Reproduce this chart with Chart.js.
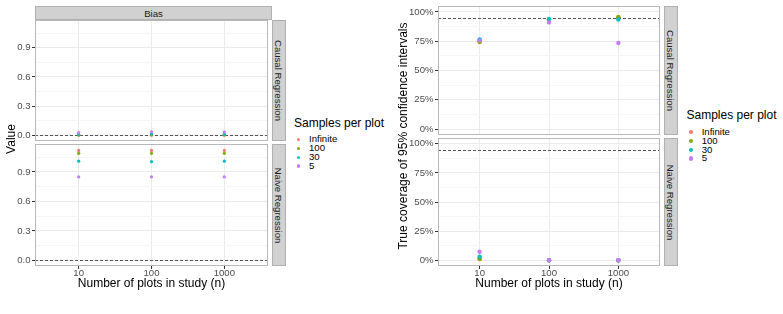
<!DOCTYPE html>
<html><head><meta charset="utf-8">
<script src="https://cdn.jsdelivr.net/npm/chart.js@4/dist/chart.umd.min.js"></script>
<style>
html,body{margin:0;padding:0;background:#fff;width:783px;height:314px;overflow:hidden;font-family:"Liberation Sans",Arial,sans-serif;}
canvas{position:absolute;}
.strip{position:absolute;background:#D1D1D1;border:1px solid #B0B0B0;box-sizing:border-box;color:#1A1A1A;font-size:9.6px;display:flex;align-items:center;justify-content:center;overflow:visible;}
.vt{transform:rotate(90deg);white-space:nowrap;}
.t{position:absolute;white-space:nowrap;color:#000;}
.ytitle{position:absolute;text-align:center;font-size:12px;height:14px;line-height:14px;transform:rotate(-90deg);white-space:nowrap;color:#000;}
.dot{position:absolute;border-radius:50%;}
</style>
</head><body>
<canvas id="lt"></canvas><canvas id="lb"></canvas><canvas id="rt"></canvas><canvas id="rb"></canvas>
<div id="overlay"></div>
<script>
// ---- data ----
const nPlots = ['10', '100', '1000'];
const sampleGroups = ['Infinite', '100', '30', '5'];
const groupColors = ['#F8766D', '#7CAE00', '#00BFC4', '#C77CFF'];
// rows follow sampleGroups, columns follow nPlots
const biasCausal  = [[0.002, 0.002, 0.002], [0.004, 0.005, 0.004], [0.012, 0.015, 0.012], [0.028, 0.035, 0.035]];
const biasNaive   = [[1.12, 1.12, 1.12], [1.09, 1.09, 1.09], [1.01, 1.005, 1.01], [0.85, 0.85, 0.85]];
const coverCausal = [[0.745, 0.935, 0.955], [0.745, 0.935, 0.955], [0.765, 0.94, 0.935], [0.755, 0.91, 0.735]];
const coverNaive  = [[0.01, 0, 0], [0.012, 0, 0], [0.03, 0, 0], [0.072, 0, 0]];
const biasTicks = [0, 0.3, 0.6, 0.9];
const biasTickLabels = ['0.0', '0.3', '0.6', '0.9'];
const biasMinor = [0.15, 0.45, 0.75, 1.05];
const coverTicks = [0, 0.25, 0.5, 0.75, 1];
const coverTickLabels = ['0%', '25%', '50%', '75%', '100%'];
const coverMinor = [0.125, 0.375, 0.625, 0.875];
const biasRef = 0;
const coverRef = 0.95;
const xTitle = 'Number of plots in study (n)';
const legendTitle = 'Samples per plot';
const stripTop = 'Bias';
const stripRows = ['Causal Regression', 'Naive Regression'];
const yTitleLeft = 'Value';
const yTitleRight = 'True coverage of 95% confidence intervals';

Chart.defaults.font.family = '"Liberation Sans", Arial, sans-serif';

const PAD = 8;

const panelPlugin = {
  id: 'panelDeco',
  beforeDatasetsDraw(chart, args, opts) {
    const {ctx, chartArea: a} = chart;
    const y = Math.round(chart.scales.y.getPixelForValue(opts.ref)) + 0.5;
    ctx.save();
    ctx.strokeStyle = '#555';
    ctx.lineWidth = 1;
    ctx.setLineDash([3, 2]);
    ctx.beginPath(); ctx.moveTo(a.left, y); ctx.lineTo(a.right, y); ctx.stroke();
    ctx.restore();
  },
  afterDraw(chart) {
    const {ctx, chartArea: a} = chart;
    ctx.save();
    ctx.strokeStyle = '#B8B8B8';
    ctx.lineWidth = 1;
    ctx.strokeRect(a.left + 0.5, a.top + 0.5, a.right - a.left - 1, a.bottom - a.top - 1);
    ctx.restore();
  }
};

// p.top/p.h describe the panel box (plus x axis area for bottom panels);
// the canvas is enlarged by PAD above (and below when there is no x axis)
function makePanel(p) {
  const cv = document.getElementById(p.id);
  const padBottom = p.showX ? 0 : PAD;
  const H = p.h + PAD + padBottom;
  cv.width = p.w; cv.height = H;
  cv.style.left = p.left + 'px'; cv.style.top = (p.top - PAD) + 'px';
  cv.style.width = p.w + 'px'; cv.style.height = H + 'px';
  const isMajor = v => p.majors.indexOf(v) >= 0;
  const datasets = sampleGroups.map((g, i) => ({
    label: g,
    data: nPlots.map((n, j) => ({x: j + 1, y: p.series[i][j]})),
    backgroundColor: groupColors[i],
    borderWidth: 0,
    pointRadius: p.r,
    order: sampleGroups.length - 1 - i
  }));
  return new Chart(cv, {
    type: 'scatter',
    data: {datasets},
    plugins: [panelPlugin],
    options: {
      responsive: false, animation: false, devicePixelRatio: 1,
      layout: {padding: {top: PAD, bottom: padBottom, left: 0, right: 0}},
      plugins: {legend: {display: false}, tooltip: {enabled: false}, panelDeco: {ref: p.ref}},
      scales: {
        x: {
          type: 'linear', min: 0.4, max: 3.6,
          afterBuildTicks: s => { s.ticks = nPlots.map((n, j) => ({value: j + 1})); },
          afterFit: s => { s.height = p.xH; s.paddingLeft = 0; s.paddingRight = 0; s.paddingTop = 0; s.paddingBottom = 0; },
          border: {display: false},
          grid: {color: '#EBEBEB', lineWidth: 1, drawTicks: p.showX, tickLength: 3, tickColor: '#333'},
          ticks: {display: p.showX, autoSkip: false, maxRotation: 0, padding: -1, color: '#4D4D4D', font: {size: 9.6},
                  callback: (v, i) => nPlots[i]},
          title: {display: p.showX, text: xTitle, color: '#000', font: {size: 12, lineHeight: 1.2}, padding: {top: 0, bottom: 3}}
        },
        y: {
          min: p.yMin, max: p.yMax,
          afterBuildTicks: s => { s.ticks = p.majors.concat(p.minors).sort((a, b) => a - b).map(v => ({value: v})); },
          afterFit: s => { s.width = p.yW; s.paddingTop = 0; s.paddingBottom = 0; s.paddingLeft = 0; s.paddingRight = 0; },
          border: {display: false},
          grid: {
            color: c => isMajor(c.tick.value) ? '#EBEBEB' : '#F5F5F5',
            lineWidth: 1, drawTicks: true, tickLength: 3,
            tickColor: c => isMajor(c.tick.value) ? '#333' : 'rgba(0,0,0,0)'
          },
          ticks: {autoSkip: false, padding: 1.5, color: '#4D4D4D', font: {size: 9.6},
                  callback: v => { const k = p.majors.indexOf(v); return k >= 0 ? p.labels[k] : ''; }}
        }
      }
    }
  });
}

makePanel({id: 'lt', left: 0, top: 20, w: 272, h: 121, yW: 35, xH: 0, showX: false,
  yMin: -0.058, yMax: 1.185, majors: biasTicks, minors: biasMinor, labels: biasTickLabels,
  series: biasCausal, ref: biasRef, r: 1.6});
makePanel({id: 'lb', left: 0, top: 144, w: 272, h: 150, yW: 35, xH: 28, showX: true,
  yMin: -0.058, yMax: 1.185, majors: biasTicks, minors: biasMinor, labels: biasTickLabels,
  series: biasNaive, ref: biasRef, r: 1.6});
makePanel({id: 'rt', left: 390, top: 6, w: 274, h: 129, yW: 48, xH: 0, showX: false,
  yMin: -0.05, yMax: 1.05, majors: coverTicks, minors: coverMinor, labels: coverTickLabels,
  series: coverCausal, ref: coverRef, r: 2.2});
makePanel({id: 'rb', left: 390, top: 138, w: 274, h: 156, yW: 48, xH: 28, showX: true,
  yMin: -0.05, yMax: 1.05, majors: coverTicks, minors: coverMinor, labels: coverTickLabels,
  series: coverNaive, ref: coverRef, r: 2.2});

// ---- strips, titles, legends (real text) ----
const ov = document.getElementById('overlay');
function el(cls, style, text) {
  const d = document.createElement('div');
  d.className = cls; d.setAttribute('style', style);
  if (text !== undefined) d.textContent = text;
  ov.appendChild(d); return d;
}
function strip(l, t, w, h, text, vertical) {
  const s = el('strip', `left:${l}px;top:${t}px;width:${w}px;height:${h}px;`);
  const sp = document.createElement('span');
  if (vertical) sp.className = 'vt';
  sp.textContent = text; s.appendChild(sp);
}
strip(35, 6, 237, 14, stripTop, false);
strip(272, 20, 14, 121, stripRows[0], true);
strip(272, 144, 14, 122, stripRows[1], true);
strip(664, 6, 14, 129, stripRows[0], true);
strip(664, 138, 14, 128, stripRows[1], true);

el('ytitle', 'left:-39px;top:132px;width:100px;', yTitleLeft);
el('ytitle', 'left:273px;top:129px;width:260px;', yTitleRight);

function legend(x, titleY, firstY, step, dotX, textX, r) {
  el('t', `left:${x}px;top:${titleY - 7}px;height:14px;line-height:14px;font-size:12px;`, legendTitle);
  sampleGroups.forEach((g, i) => {
    const cy = firstY + i * step;
    el('dot', `left:${dotX - r}px;top:${cy - r}px;width:${2 * r}px;height:${2 * r}px;background:${groupColors[i]};`);
    el('t', `left:${textX}px;top:${cy - 6}px;height:12px;line-height:12px;font-size:9.6px;`, g);
  });
}
legend(294, 123, 139.3, 8.9, 298.3, 309, 1.6);
legend(686.5, 115, 132.3, 8.7, 690.7, 701.7, 2.2);
</script>
</body></html>
